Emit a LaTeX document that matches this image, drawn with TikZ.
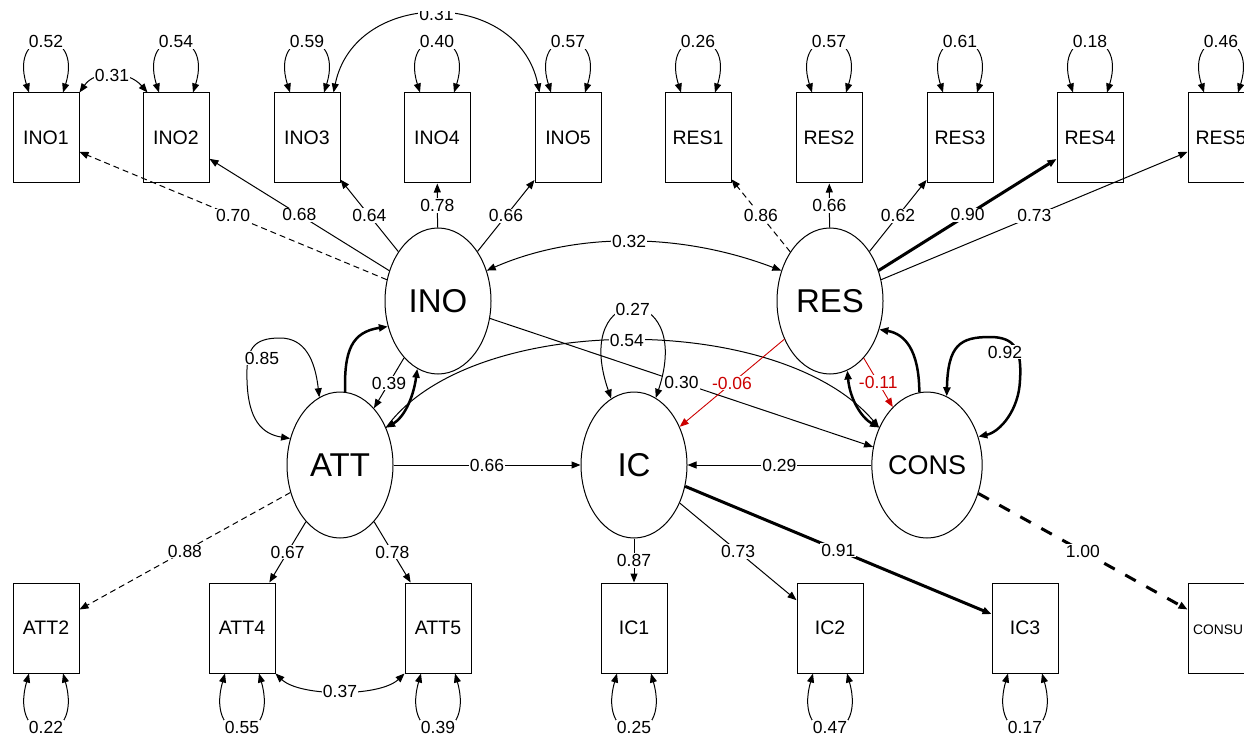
\documentclass[tikz,border=0pt]{standalone}
\usepackage{fontspec}
\setmainfont{Liberation Sans}
\usetikzlibrary{arrows.meta,shapes.geometric}
\definecolor{negred}{RGB}{204,0,0}
\tikzset{
  obs/.style={draw, line width=1pt, fill=white, minimum width=66pt, minimum height=90pt, inner sep=0pt, font=\fontsize{19.5}{19.5}\selectfont},
  lat/.style={draw, ellipse, line width=1pt, fill=white, minimum width=106pt, minimum height=146pt, inner sep=0pt, font=\fontsize{33}{33}\selectfont},
  lab/.style={fill=white, inner sep=1pt, font=\fontsize{17.5}{17.5}\selectfont},
  edge/.style={line width=1pt, -{Triangle[length=9pt,width=7pt]}},
  dedge/.style={line width=1pt, {Triangle[length=9pt,width=7pt]}-{Triangle[length=9pt,width=7pt]}},
  dsh/.style={dash pattern=on 6pt off 4pt},
  bigdsh/.style={dash pattern=on 12pt off 12pt},
  heavy/.style={line width=3pt},
  medheavy/.style={line width=2.5pt},
  neg/.style={draw=negred, color=negred, line width=0.9pt},
}
\newcommand\toploop[2]{%
  \draw[dedge] ([xshift=-17pt]#1.north) .. controls ([xshift=-38pt,yshift=67pt]#1.north) and ([xshift=38pt,yshift=67pt]#1.north) .. ([xshift=17pt]#1.north);
  \node[lab] (#1v) at ([yshift=51pt]#1.north) {#2};}
\newcommand\botloop[2]{%
  \draw[dedge] ([xshift=-17pt]#1.south) .. controls ([xshift=-38pt,yshift=-74pt]#1.south) and ([xshift=38pt,yshift=-74pt]#1.south) .. ([xshift=17pt]#1.south);
  \node[lab] (#1v) at ([yshift=-54pt]#1.south) {#2};}
\begin{document}
\begin{tikzpicture}[x=1pt,y=-1pt]
\useasboundingbox (0,0) rectangle (1244,735);
\clip (0,12) rectangle (1244,735);

% observed variables, top row
\node[obs] (INO1) at (46,138) {INO1};
\node[obs] (INO2) at (176,138) {INO2};
\node[obs] (INO3) at (307,138) {INO3};
\node[obs] (INO4) at (437,138) {INO4};
\node[obs] (INO5) at (568,138) {INO5};
\node[obs] (RES1) at (698,138) {RES1};
\node[obs] (RES2) at (829,138) {RES2};
\node[obs] (RES3) at (960,138) {RES3};
\node[obs] (RES4) at (1090,138) {RES4};
\node[obs] (RES5) at (1221,138) {RES5};
% observed variables, bottom row
\node[obs] (ATT2) at (46,628) {ATT2};
\node[obs] (ATT4) at (242,628) {ATT4};
\node[obs] (ATT5) at (438,628) {ATT5};
\node[obs] (IC1) at (634,628) {IC1};
\node[obs] (IC2) at (830,628) {IC2};
\node[obs] (IC3) at (1025,628) {IC3};
\node[obs] (CONSU) at (1221,628) {};
\node[anchor=west, inner sep=0pt, font=\fontsize{13.8}{13.8}\selectfont] (CONSUt) at (1193,630) {CONSU};

% latent variables
\node[lat] (INO) at (438,301) {INO};
\node[lat] (RES) at (830,301) {RES};
\node[lat] (ATT) at (340,465) {ATT};
\node[lat] (IC) at (634,465) {IC};
\node[lat, minimum width=108pt, font=\fontsize{27}{27}\selectfont] (CONS) at (927,465) {CONS};

% residual loops
\toploop{INO1}{0.52}
\toploop{INO2}{0.54}
\toploop{INO3}{0.59}
\toploop{INO4}{0.40}
\toploop{INO5}{0.57}
\toploop{RES1}{0.26}
\toploop{RES2}{0.57}
\toploop{RES3}{0.61}
\toploop{RES4}{0.18}
\toploop{RES5}{0.46}
\botloop{ATT2}{0.22}
\botloop{ATT4}{0.55}
\botloop{ATT5}{0.39}
\botloop{IC1}{0.25}
\botloop{IC2}{0.47}
\botloop{IC3}{0.17}

% residual covariances
\draw[dedge] (INO1.north east) .. controls (95,70) and (128,70) .. ([xshift=5pt]INO2.north west) node[lab,pos=0.5] (c12) {0.31};
\draw[dedge] ([xshift=-7pt]INO3.north east) .. controls (355,-12) and (518,-12) .. ([xshift=5pt]INO5.north west) node[lab,pos=0.5] (c35) {0.31};
\draw[dedge] (ATT4.south east) .. controls (300,697) and (380,697) .. (ATT5.south west) node[lab,pos=0.5] (c45) {0.37};

% loadings INO
\draw[edge,dsh] (INO) -- node[lab,midway] (lI1) {0.70} (INO1);
\draw[edge] (INO) -- node[lab,midway] (lI2) {0.68} (INO2);
\draw[edge] (INO) -- node[lab,midway] (lI3) {0.64} (INO3);
\draw[edge] (INO) -- node[lab,midway] (lI4) {0.78} (INO4);
\draw[edge] (INO) -- node[lab,midway] (lI5) {0.66} (INO5);
% loadings RES
\draw[edge,dsh] (RES) -- node[lab,midway] (lR1) {0.86} (RES1);
\draw[edge] (RES) -- node[lab,midway] (lR2) {0.66} (RES2);
\draw[edge] (RES) -- node[lab,midway] (lR3) {0.62} (RES3);
\draw[edge,heavy] (RES) -- node[lab,midway] (lR4) {0.90} (RES4);
\draw[edge] (RES) -- node[lab,midway] (lR5) {0.73} (RES5);
% loadings ATT, IC, CONS
\draw[edge,dsh] (ATT) -- node[lab,midway] (lA2) {0.88} (ATT2);
\draw[edge] (ATT) -- node[lab,midway] (lA4) {0.67} (ATT4);
\draw[edge] (ATT) -- node[lab,midway] (lA5) {0.78} (ATT5);
\draw[edge] (IC) -- node[lab,midway] (lC1) {0.87} (IC1);
\draw[edge] (IC) -- node[lab,midway] (lC2) {0.73} (IC2);
\draw[edge,heavy] (IC) -- node[lab,midway] (lC3) {0.91} (IC3);
\draw[edge,heavy,bigdsh] (CONS) -- node[lab,midway] (lS1) {1.00} (CONSU);

% structural part
\draw[dedge] (INO.32) .. controls (575,232) and (680,232) .. (RES.148) node[lab,pos=0.5] (cIR) {0.32};
\draw[edge,medheavy] (ATT.86) .. controls (344,350) and (352,332) .. (INO.207);
\draw[dedge,medheavy] (INO.253) .. controls (413,400) and (403,418) .. (ATT.39);
\draw[edge] (INO) -- node[lab,midway] (bIA) {0.39} (ATT);
\draw[dedge] (ATT.107) .. controls (315,360) and (305,338) .. (280,338) .. controls (252,338) and (246,350) .. (247,380) .. controls (248,420) and (262,434) .. (ATT.152);
\node[lab] (vATT) at (262,358) {0.85};
\draw[edge] (ATT.39) .. controls (470,311) and (780,311) .. (CONS.142) node[lab,pos=0.5] (bAS) {0.54};
\draw[edge] (INO) -- node[lab,midway] (bIS) {0.30} (CONS);
\draw[edge] (ATT) -- node[lab,midway] (bAC) {0.66} (IC);
\draw[edge] (CONS) -- node[lab,midway] (bSC) {0.29} (IC);
\draw[edge,neg] (RES) -- node[lab,midway,text=negred] (bRC) {-0.06} (IC);
\draw[edge,neg] (RES) -- node[lab,midway,text=negred] (bRS) {-0.11} (CONS);
\draw[edge,medheavy] (CONS.96) .. controls (919,350) and (905,334) .. (RES.330);
\draw[dedge,medheavy] (RES.284) .. controls (850,400) and (862,418) .. (CONS.142);
\draw[dedge,medheavy] (CONS.74) .. controls (948,345) and (960,337) .. (990,337) .. controls (1015,337) and (1022,350) .. (1020,380) .. controls (1019,410) and (1000,432) .. (CONS.29);
\node[lab] (vCONS) at (1005,352) {0.92};
\draw[dedge] (IC.109) .. controls (570,280) and (695,280) .. (IC.72) node[lab,pos=0.5] (vIC) {0.27};
\end{tikzpicture}
\end{document}
